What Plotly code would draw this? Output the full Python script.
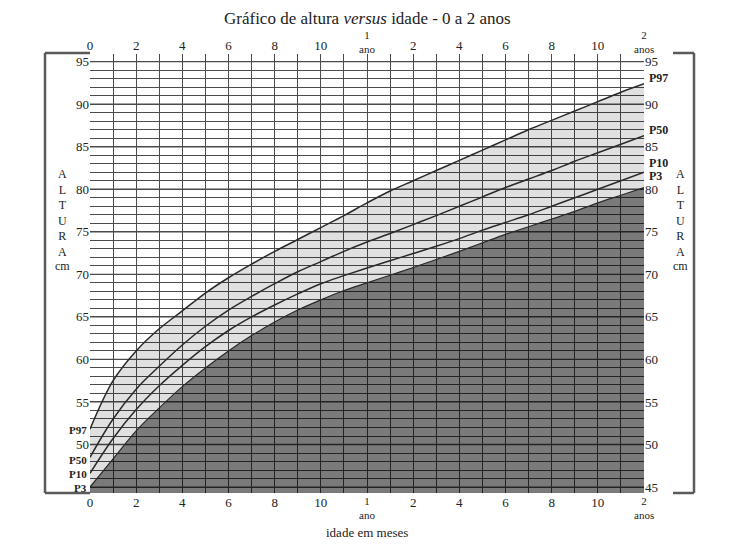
import plotly.graph_objects as go

# ---- data ----
months = list(range(0, 25))
p97 = [51.8, 57.5, 61.0, 63.6, 65.7, 67.8, 69.6, 71.2, 72.7, 74.1, 75.5, 76.9, 78.4,
       79.8, 81.0, 82.2, 83.4, 84.6, 85.8, 87.0, 88.1, 89.2, 90.3, 91.4, 92.4]
p50 = [48.5, 53.0, 56.5, 59.2, 61.7, 63.9, 65.8, 67.4, 68.9, 70.3, 71.5, 72.7, 73.8,
       74.8, 75.85, 76.9, 78.0, 79.1, 80.2, 81.2, 82.2, 83.3, 84.3, 85.3, 86.3]
p10 = [46.6, 50.7, 54.1, 56.9, 59.3, 61.5, 63.4, 65.0, 66.4, 67.7, 68.9, 69.85, 70.75,
       71.6, 72.45, 73.3, 74.2, 75.2, 76.1, 77.0, 78.0, 79.0, 80.0, 81.0, 82.0]
p3 = [45.0, 48.3, 51.6, 54.3, 56.8, 59.0, 61.0, 62.8, 64.4, 65.8, 67.0, 68.1, 69.0,
      69.9, 70.8, 71.75, 72.7, 73.7, 74.7, 75.6, 76.5, 77.4, 78.4, 79.3, 80.2]

x_tickvals = list(range(0, 25, 2))
month_ticktext = ["0", "2", "4", "6", "8", "10", "", "2", "4", "6", "8", "10", ""]
year_marks = [12, 24]
year_text = ["1<br>ano", "2<br>anos"]
left_tickvals = [50, 55, 60, 65, 70, 75, 80, 85, 90, 95]
right_tickvals = [45, 50, 55, 60, 65, 70, 75, 80, 85, 90, 95]

# page body has an 8px margin: compensate so the plot lands where the reference has it
OFF = 8
W, H = 726, 551
PL, PR, PT, PB = 90, 644, 54, 493.5   # plot area in page pixels
L = PL - OFF
R = W - (PR - OFF)
T = PT - OFF
B = H - (PB - OFF)
XR = [0, 24]
YR = [44.3, 95.9]
pw = PR - PL
ph = PB - PT


def PY(py):
    return (PB - py) / ph


def PX(px):
    return (px - PL) / pw


FONT = "Liberation Serif, Times New Roman, serif"
INK = "#222222"
GRID = "#4a4a4a"
CURVE = "#2a2a2a"

fig = go.Figure()

# dark region below P3
fig.add_trace(go.Scatter(x=months, y=p3, mode="lines", line=dict(color=CURVE, width=1.2),
                         fill="tozeroy", fillcolor="rgba(0,0,0,0.52)", hoverinfo="skip",
                         showlegend=False, line_shape="spline"))
# light band P3..P97
fig.add_trace(go.Scatter(x=months, y=p97, mode="lines", line=dict(color=CURVE, width=1.5),
                         fill="tonexty", fillcolor="rgba(0,0,0,0.12)", hoverinfo="skip",
                         showlegend=False, line_shape="spline"))
for s in (p50, p10):
    fig.add_trace(go.Scatter(x=months, y=s, mode="lines", line=dict(color=CURVE, width=1.5),
                             hoverinfo="skip", showlegend=False, line_shape="spline"))
# invisible trace for secondary axes
fig.add_trace(go.Scatter(x=months, y=p50, xaxis="x2", yaxis="y2", mode="lines",
                         line=dict(width=0, color="rgba(0,0,0,0)"), hoverinfo="skip",
                         showlegend=False))

tickfont = dict(family=FONT, size=13, color=INK)

fig.update_layout(
    width=W, height=H,
    margin=dict(l=L, r=R, t=T, b=B, autoexpand=False),
    paper_bgcolor="white", plot_bgcolor="white",
    showlegend=False,
    xaxis=dict(range=XR, tickvals=x_tickvals, ticktext=month_ticktext, tickfont=tickfont,
               ticks="", showgrid=True, gridcolor=GRID, gridwidth=1, zeroline=False,
               showline=False, automargin=False,
               minor=dict(dtick=1, showgrid=True, gridcolor=GRID, gridwidth=1),
               fixedrange=True),
    yaxis=dict(range=YR, tickvals=left_tickvals, tickfont=tickfont, ticks="",
               showgrid=False, zeroline=False, showline=False, automargin=False,
               minor=dict(tick0=45, dtick=1, showgrid=True, gridcolor=GRID, gridwidth=1),
               fixedrange=True),
    xaxis2=dict(range=XR, overlaying="x", side="top", tickvals=x_tickvals,
                ticktext=month_ticktext, tickfont=tickfont, ticks="", showgrid=False,
                zeroline=False, showline=False, fixedrange=True, automargin=False),
    yaxis2=dict(range=YR, overlaying="y", side="right", tickvals=right_tickvals,
                tickfont=tickfont, ticks="", showgrid=False, zeroline=False,
                showline=False, fixedrange=True, automargin=False),
)

# frame
FR = "#5a5a5a"
fw = 2.5
x_l, x_r = PX(45), PX(694)
y_t, y_b = PY(53), PY(493.5)
shapes = [
    dict(type="line", xref="paper", yref="paper", x0=x_l, x1=x_l, y0=y_b, y1=y_t,
         line=dict(color=FR, width=fw)),
    dict(type="line", xref="paper", yref="paper", x0=x_l, x1=0, y0=y_t, y1=y_t,
         line=dict(color=FR, width=fw)),
    dict(type="line", xref="paper", yref="paper", x0=x_l, x1=0, y0=y_b, y1=y_b,
         line=dict(color=FR, width=fw)),
    dict(type="line", xref="paper", yref="paper", x0=x_r, x1=x_r, y0=y_b, y1=y_t,
         line=dict(color=FR, width=fw)),
    dict(type="line", xref="paper", yref="paper", x0=PX(673), x1=x_r, y0=y_t, y1=y_t,
         line=dict(color=FR, width=fw)),
    dict(type="line", xref="paper", yref="paper", x0=PX(673), x1=x_r, y0=y_b, y1=y_b,
         line=dict(color=FR, width=fw)),
]
for v in range(45, 96, 5):
    shapes.append(dict(type="line", xref="paper", yref="y", x0=0, x1=1, y0=v, y1=v,
                       layer="below", line=dict(color=GRID, width=1.3)))
fig.update_layout(shapes=shapes)

ann = []


def add(text, x, y, size=13, bold=False, xanchor="center", yanchor="middle", xref="paper"):
    t = f"<b>{text}</b>" if bold else text
    ann.append(dict(text=t, x=x, y=y, xref=xref, yref="paper", showarrow=False,
                    xanchor=xanchor, yanchor=yanchor, borderpad=0,
                    font=dict(family=FONT, size=size, color=INK)))


# title
add("Gráfico de altura <i>versus</i> idade - 0 a 2 anos", 0.5, PY(18.5), size=17)
# year marks (top and bottom): number over "ano"/"anos"
for xm, txt in zip(year_marks, year_text):
    add(txt, xm, PY(56), size=11, yanchor="bottom", xref="x")
    add(txt, xm, PY(495), size=11, yanchor="top", xref="x")
add("idade em meses", PX(367), PY(533), size=13)
# ALTURA vertical labels
altura = "A<br>L<br>T<br>U<br>R<br>A"
for xp in (62, 680):
    add(altura, PX(xp), PY(213), size=12)
    add("cm", PX(xp), PY(266), size=12)

# percentile labels
names = ["P97", "P50", "P10", "P3"]
left_y = [430, 460, 474, 488]
right_y = [78, 130, 163, 176]
for n, ly, ry in zip(names, left_y, right_y):
    add(n, PX(88), PY(ly), size=11, bold=True, xanchor="right")
    add(n, PX(648), PY(ry), size=12, bold=True, xanchor="left")

fig.update_layout(annotations=ann)
fig.write_html("out.html")
